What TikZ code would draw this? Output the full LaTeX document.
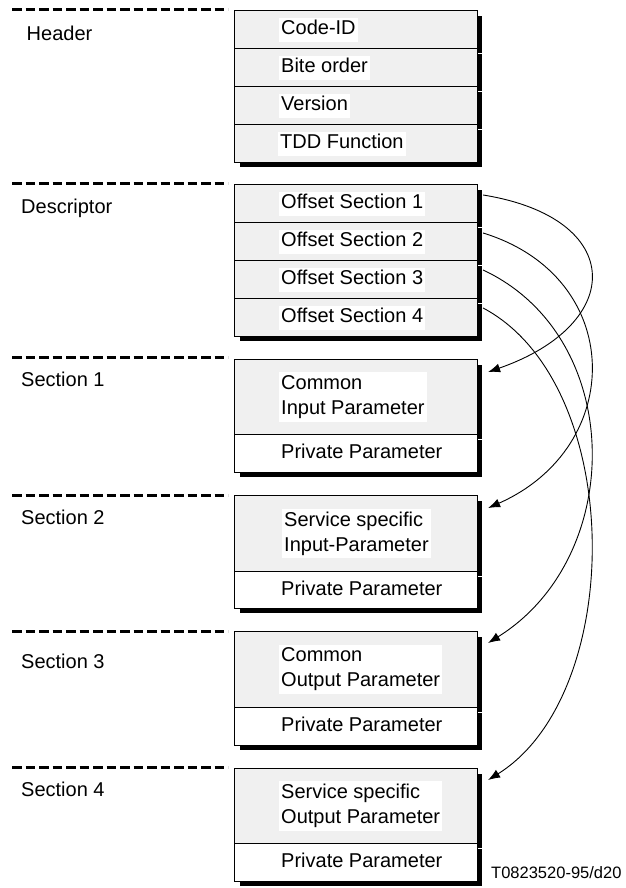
\documentclass[tikz,border=0pt]{standalone}
\usepackage{fontspec}
\setmainfont{Liberation Sans}
\usetikzlibrary{arrows.meta,shadows}
\definecolor{boxgray}{HTML}{F0F0F0}
\begin{document}
\begin{tikzpicture}[x=1pt,y=-1pt,
  font=\fontsize{20}{25}\selectfont,
  row/.style={draw=black, line width=1.1pt, fill=boxgray, minimum width=243pt,
    inner sep=0pt, anchor=north west,
    general shadow={fill=black, draw=white, line width=0.6pt,
      shadow xshift=5pt, shadow yshift=-4.5pt}},
  prow/.style={row, fill=white},
  txt/.style={fill=white, inner xsep=2pt, inner ysep=2pt,
    text height=15pt, text depth=5pt, anchor=west},
  txttwo/.style={fill=white, inner xsep=2pt, inner ysep=3pt,
    align=left, anchor=west},
  sepline/.style={line width=3pt, dash pattern=on 9.5pt off 4pt},
  side/.style={anchor=west, inner sep=0pt, text height=14.5pt, text depth=0pt},
  link/.style={line width=0.9pt, -{Latex[length=12pt,width=9pt]}}]

\useasboundingbox (0,0) rectangle (625,888);

% separators between the file parts
\foreach \yy in {10,183,357,495,631,767}
  \draw[sepline] (12,\yy) -- (228,\yy);

% part names
\node[side] (lhead) at (26.5,33) {Header};
\node[side] (ldesc) at (21,206) {Descriptor};
\node[side] (lsec1) at (21,379) {Section 1};
\node[side] (lsec2) at (21,517) {Section 2};
\node[side] (lsec3) at (21,661) {Section 3};
\node[side] (lsec4) at (21,789) {Section 4};

% header
\node[row, minimum height=38pt] (h1) at (234,10) {};
\node[row, minimum height=38pt] (h2) at (234,48) {};
\node[row, minimum height=38pt] (h3) at (234,86) {};
\node[row, minimum height=38pt] (h4) at (234,124) {};
\node[txt] (th1) at ([xshift=45pt]h1.west) {Code-ID};
\node[txt] (th2) at ([xshift=45pt]h2.west) {Bite order};
\node[txt] (th3) at ([xshift=45pt]h3.west) {Version};
\node[txt] (th4) at ([xshift=44pt]h4.west) {TDD Function};

% descriptor
\node[row, minimum height=38pt] (o1) at (234,184) {};
\node[row, minimum height=38pt] (o2) at (234,222) {};
\node[row, minimum height=38pt] (o3) at (234,260) {};
\node[row, minimum height=38pt] (o4) at (234,298) {};
\node[txt] (to1) at ([xshift=45pt]o1.west) {Offset Section 1};
\node[txt] (to2) at ([xshift=45pt]o2.west) {Offset Section 2};
\node[txt] (to3) at ([xshift=45pt]o3.west) {Offset Section 3};
\node[txt] (to4) at ([xshift=45pt]o4.west) {Offset Section 4};

% section 1
\node[row, minimum height=75pt] (s1a) at (234,359) {};
\node[prow, minimum height=38pt] (s1b) at (234,434) {};
\node[txttwo] (ts1a) at ([xshift=45pt]s1a.west) {Common\\Input Parameter};
\node[txt] (ts1b) at ([xshift=45pt]s1b.west) {Private Parameter};

% section 2
\node[row, minimum height=76pt] (s2a) at (234,495) {};
\node[prow, minimum height=37pt] (s2b) at (234,571) {};
\node[txttwo] (ts2a) at ([xshift=48pt]s2a.west) {Service specific\\Input-Parameter};
\node[txt] (ts2b) at ([xshift=45pt]s2b.west) {Private Parameter};

% section 3
\node[row, minimum height=76pt] (s3a) at (234,631) {};
\node[prow, minimum height=38pt] (s3b) at (234,707) {};
\node[txttwo] (ts3a) at ([xshift=45pt]s3a.west) {Common\\Output Parameter};
\node[txt] (ts3b) at ([xshift=45pt]s3b.west) {Private Parameter};

% section 4
\node[row, minimum height=75pt] (s4a) at (234,768) {};
\node[prow, minimum height=38pt] (s4b) at (234,843) {};
\node[txttwo] (ts4a) at ([xshift=45pt]s4a.west) {Service specific\\Output Parameter};
\node[txt] (ts4b) at ([xshift=45pt]s4b.west) {Private Parameter};

% offsets pointing to their sections
\draw[link] ([xshift=5pt,yshift=-11pt]o1.north east)
  .. controls +(143,23) and +(138,-48) .. ([xshift=10pt,yshift=-13pt]s1a.north east);
\draw[link] ([xshift=5pt,yshift=-11pt]o2.north east)
  .. controls +(143,44) and +(138,-61) .. ([xshift=10pt,yshift=-13pt]s2a.north east);
\draw[link] ([xshift=5pt,yshift=-10pt]o3.north east)
  .. controls +(143,67) and +(138,-86) .. ([xshift=10pt,yshift=-12pt]s3a.north east);
\draw[link] ([xshift=5pt,yshift=-10pt]o4.north east)
  .. controls +(143,76) and +(138,-86) .. ([xshift=10pt,yshift=-12pt]s4a.north east);

% drawing number
\node[side, font=\fontsize{16.5}{20}\selectfont, text height=12pt]
  (ref) at (491,872) {T0823520-95/d20};
\end{tikzpicture}
\end{document}
